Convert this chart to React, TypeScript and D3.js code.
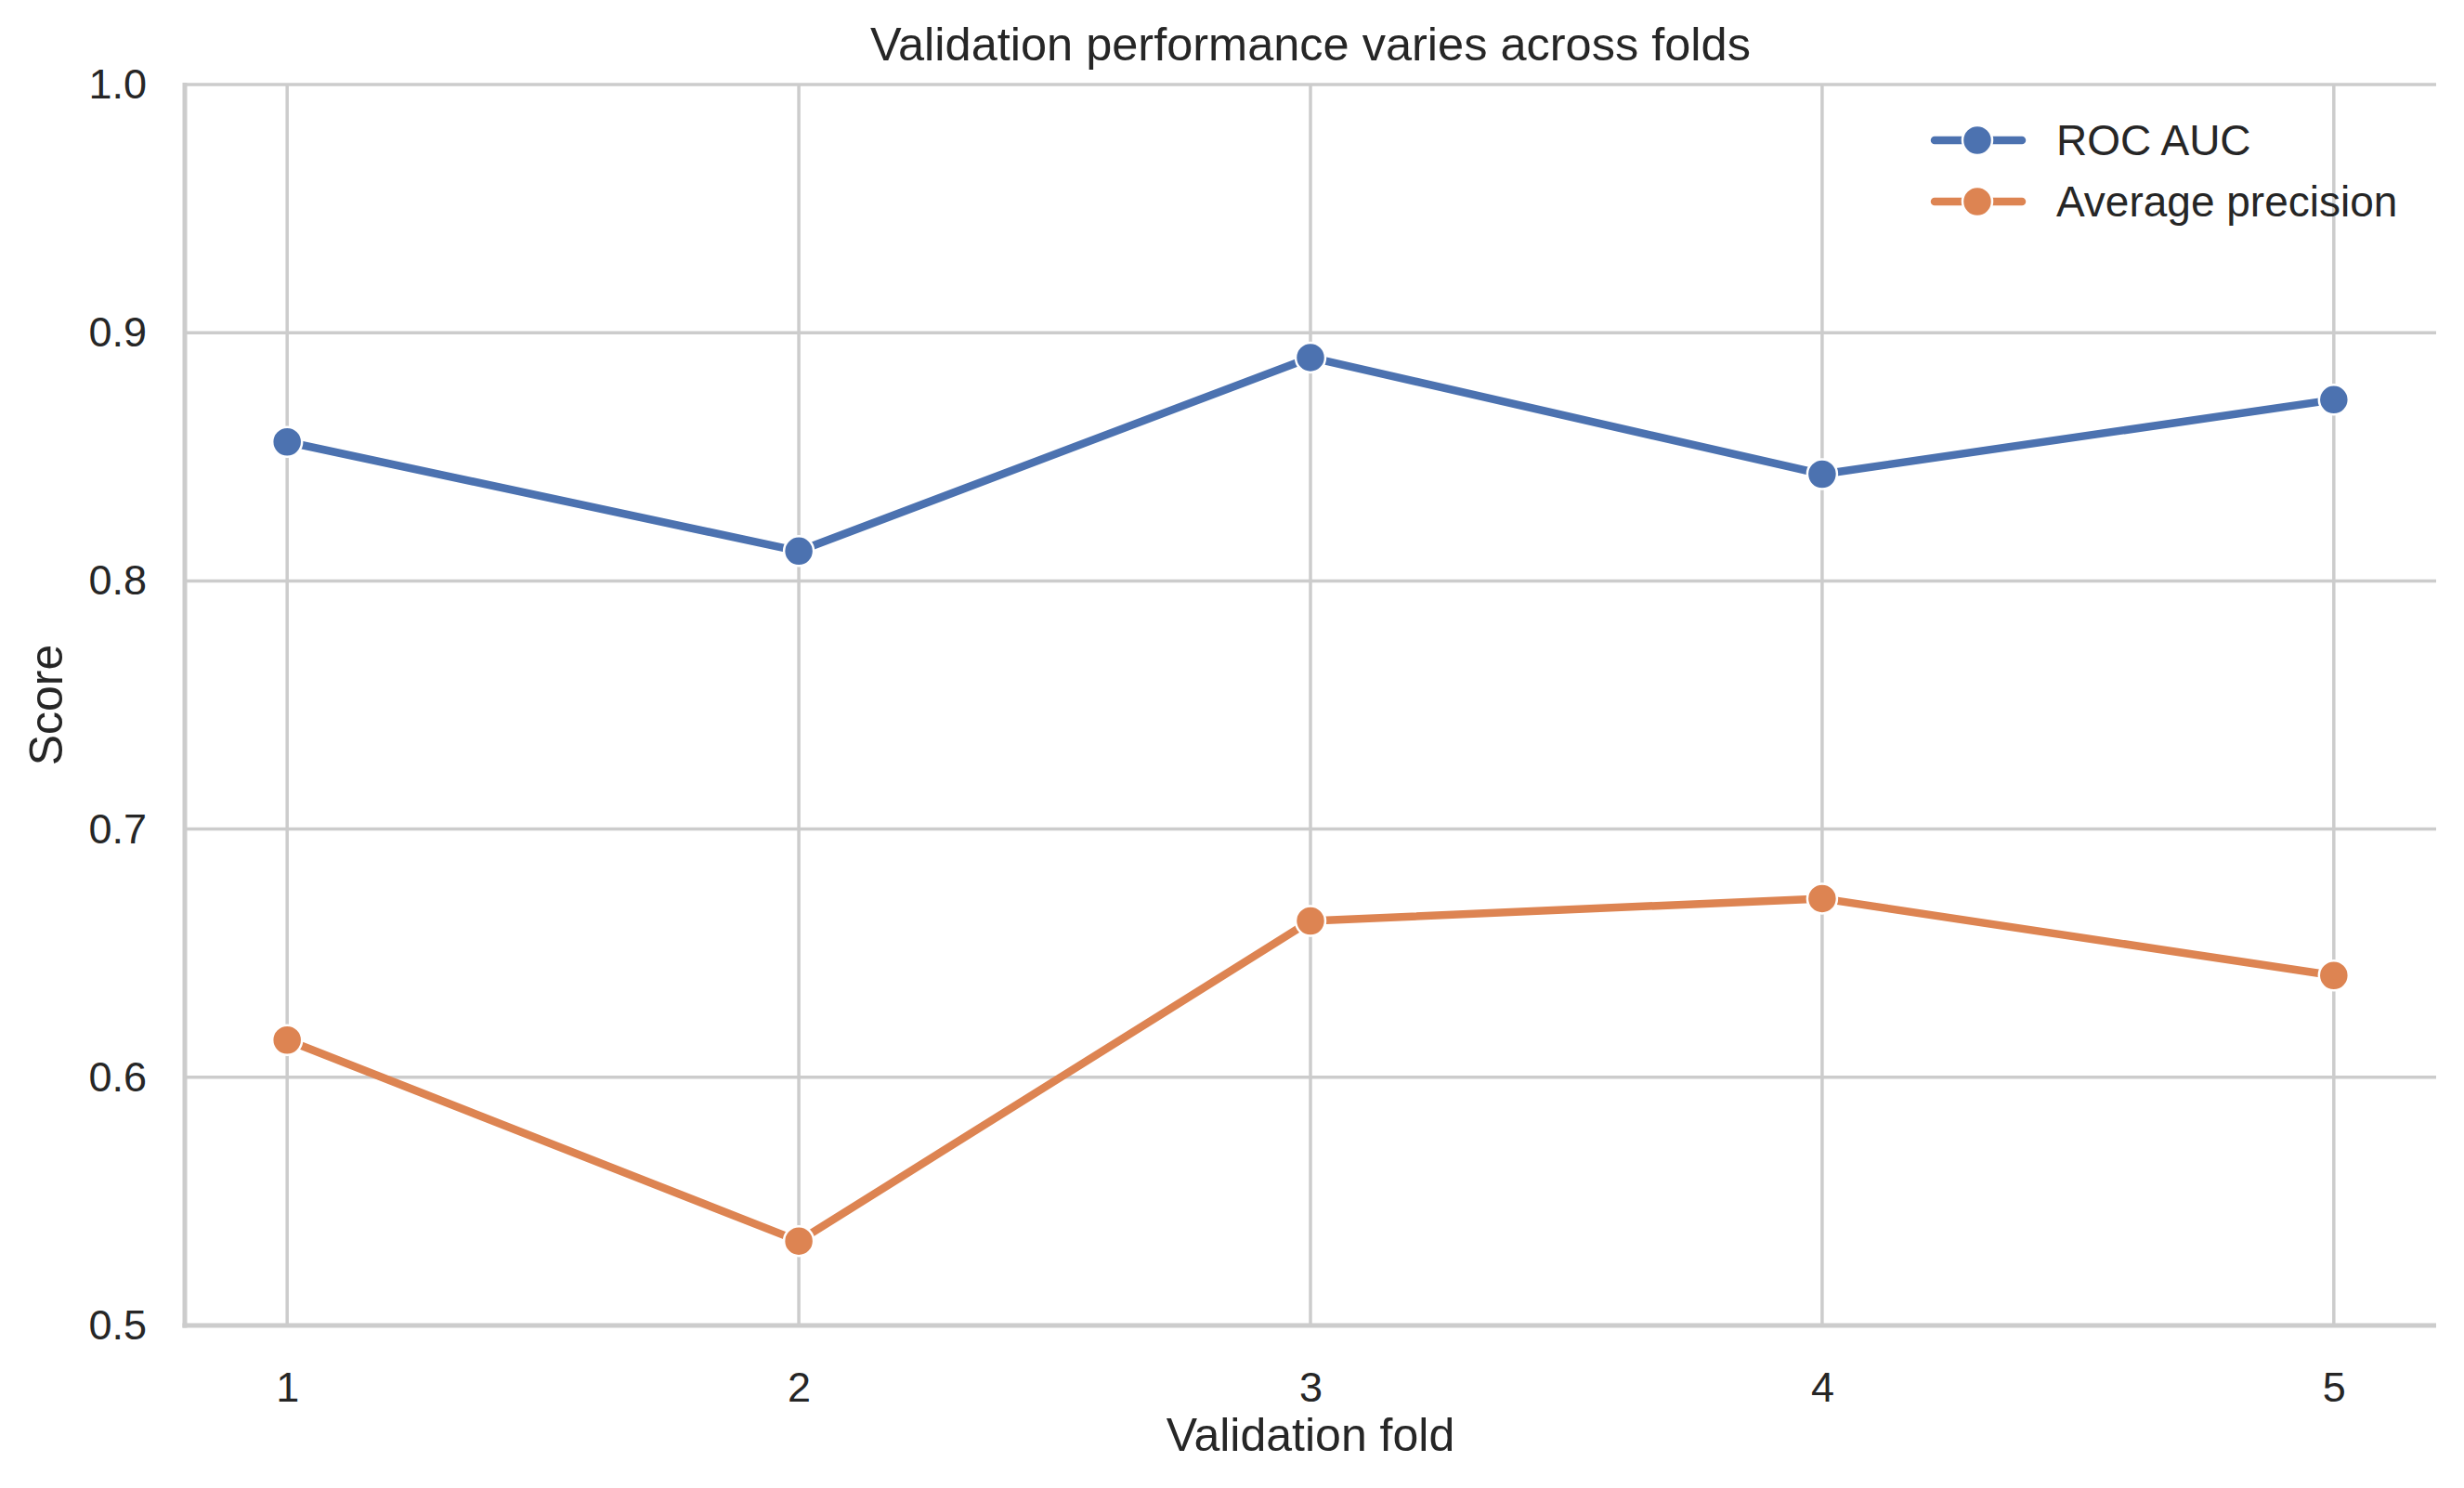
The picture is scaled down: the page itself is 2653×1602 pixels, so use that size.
import * as d3 from "d3";
import { useRef, useEffect } from "react";

const folds = [1, 2, 3, 4, 5];
const rocAuc = [0.856, 0.812, 0.89, 0.843, 0.873];
const avgPrecision = [0.615, 0.534, 0.663, 0.672, 0.641];
const yTicks = [0.5, 0.6, 0.7, 0.8, 0.9, 1.0];

const series = [
  { name: "ROC AUC", values: rocAuc, color: "#4c72b0" },
  { name: "Average precision", values: avgPrecision, color: "#dd8452" },
];

const width = 2653;
const height = 1602;
const marginLeft = 199;
const marginRight = 30;
const marginTop = 91;
const marginBottom = 175;
const font = "'Liberation Sans', Arial, sans-serif";
const textColor = "#262626";
const gridColor = "#cccccc";

const App = () => {
  const gx = useRef<SVGGElement>(null);
  const gy = useRef<SVGGElement>(null);

  const x = d3.scaleLinear()
    .domain([0.8, 5.2])
    .range([marginLeft, width - marginRight]);

  const y = d3.scaleLinear()
    .domain([0.5, 1.0])
    .range([height - marginBottom, marginTop]);

  const line = d3.line<number>()
    .x((_, i) => x(folds[i]))
    .y(d => y(d));

  useEffect(() => {
    if (gx.current) {
      const g = d3.select(gx.current);
      g.selectAll("*").remove();
      g.call(d3.axisBottom(x).tickValues(folds).tickFormat(d3.format("d")).tickSize(0).tickPadding(50));
      g.select(".domain").remove();
      g.selectAll("text")
        .attr("font-family", font)
        .attr("font-size", 45)
        .attr("fill", textColor);
    }
    if (gy.current) {
      const g = d3.select(gy.current);
      g.selectAll("*").remove();
      g.call(d3.axisLeft(y).tickValues(yTicks).tickFormat(d3.format(".1f")).tickSize(0).tickPadding(41));
      g.select(".domain").remove();
      g.selectAll("text")
        .attr("font-family", font)
        .attr("font-size", 45)
        .attr("fill", textColor);
    }
  }, []);

  const plotBottom = height - marginBottom;
  const plotRight = width - marginRight;
  const cx = (marginLeft + plotRight) / 2;

  return (
    <svg width={width} height={height} style={{ position: "absolute", left: 0, top: 0, background: "#fff" }}>
      {/* grid */}
      <g stroke={gridColor} strokeWidth={3.5}>
        {folds.map(f => (
          <line key={f} x1={x(f)} x2={x(f)} y1={marginTop} y2={plotBottom} />
        ))}
        {yTicks.map(t => (
          <line key={t} x1={marginLeft} x2={plotRight} y1={y(t)} y2={y(t)} />
        ))}
      </g>
      {/* spines */}
      <g stroke={gridColor} strokeWidth={5}>
        <line x1={marginLeft} x2={marginLeft} y1={marginTop - 2} y2={plotBottom + 2.5} />
        <line x1={marginLeft - 2.5} x2={plotRight} y1={plotBottom} y2={plotBottom} />
      </g>
      <g ref={gx} transform={`translate(0,${plotBottom})`} />
      <g ref={gy} transform={`translate(${marginLeft},0)`} />

      {series.map(s => (
        <g key={s.name}>
          <path d={line(s.values) || ""} fill="none" stroke={s.color} strokeWidth={8.5} strokeLinejoin="round" strokeLinecap="round" />
          {s.values.map((v, i) => (
            <circle key={i} cx={x(folds[i])} cy={y(v)} r={16} fill={s.color} stroke="#fff" strokeWidth={2.5} />
          ))}
        </g>
      ))}

      {/* legend */}
      {series.map((s, i) => {
        const ly = 151 + i * 66;
        return (
          <g key={s.name}>
            <line x1={2083} x2={2177} y1={ly} y2={ly} stroke={s.color} strokeWidth={8.5} strokeLinecap="round" />
            <circle cx={2129} cy={ly} r={16} fill={s.color} stroke="#fff" strokeWidth={2.5} />
            <text x={2214} y={ly} dy="0.35em" fontFamily={font} fontSize={46} fill={textColor}>{s.name}</text>
          </g>
        );
      })}

      <text x={cx} y={65} textAnchor="middle" fontFamily={font} fontSize={50.5} fill={textColor}>
        Validation performance varies across folds
      </text>
      <text x={cx} y={1562} textAnchor="middle" fontFamily={font} fontSize={50} fill={textColor}>
        Validation fold
      </text>
      <text transform={`translate(67,${(marginTop + plotBottom) / 2}) rotate(-90)`} textAnchor="middle" fontFamily={font} fontSize={50} fill={textColor}>
        Score
      </text>
    </svg>
  );
};

export default App;
